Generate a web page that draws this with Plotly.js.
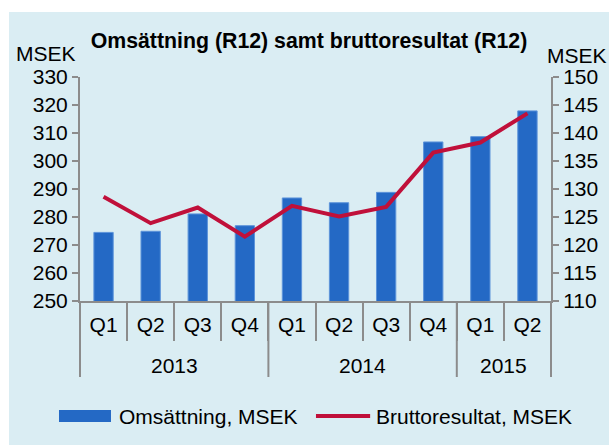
<!DOCTYPE html>
<html>
<head>
<meta charset="utf-8">
<script src="https://cdn.plot.ly/plotly-3.0.1.min.js"></script>
<style>
  html, body { margin: 0; padding: 0; background: #ffffff; }
  #chart { position: absolute; left: 9px; top: 12px; width: 600px; height: 433px; }
</style>
</head>
<body>
<div id="chart"></div>
<script>
const years = ["2013", "2013", "2013", "2013", "2014", "2014", "2014", "2014", "2015", "2015"];
const quarters = ["Q1", "Q2", "Q3", "Q4", "Q1", "Q2", "Q3", "Q4", "Q1", "Q2"];
const omsattning = [274.5, 274.9, 281.1, 276.9, 286.8, 285.1, 288.8, 306.8, 308.7, 317.9];
const bruttoresultat = [128.6, 123.9, 126.7, 121.5, 127.0, 125.1, 126.8, 136.5, 138.3, 143.5];
const seriesNames = ["Omsättning, MSEK", "Bruttoresultat, MSEK"];
const titleText = "Omsättning (R12) samt bruttoresultat (R12)";

const FONT = "Liberation Sans, Arial, sans-serif";
const FS = 21;
const AXIS = "#8c8c8c";
const BLUE = "#2469C5";
const RED = "#C0103A";

const PLOT_H = 224;           // plot-area height in px (433 - 65 - 144)
const n = quarters.length;
const idx = quarters.map((_, i) => i);

// year groups: boundaries and centres derived from the years array
const groups = [];
years.forEach((y, i) => {
  if (i === 0 || years[i - 1] !== y) groups.push({ year: y, start: i, end: i });
  else groups[groups.length - 1].end = i;
});
const boundaries = [0].concat(groups.map(g => g.end + 1));

const traces = [
  {
    type: "bar",
    x: idx,
    y: omsattning,
    name: seriesNames[0],
    marker: { color: BLUE, line: { color: "#5D94DA", width: 1 } },
    yaxis: "y",
    showlegend: false,
    hoverinfo: "skip"
  },
  {
    type: "scatter",
    mode: "lines",
    x: idx,
    y: bruttoresultat,
    name: seriesNames[1],
    line: { color: RED, width: 4 },
    yaxis: "y2",
    showlegend: false,
    hoverinfo: "skip"
  }
];

const yearAnnotations = groups.map(g => ({
  text: g.year, xref: "x", yref: "paper",
  x: (g.start + g.end) / 2, y: -64 / PLOT_H,
  xanchor: "center", yanchor: "middle", showarrow: false,
  font: { family: FONT, size: FS, color: "#000000" }
}));

const dividerShapes = boundaries.map(b => ({
  type: "line", xref: "paper", yref: "paper",
  x0: b / n, x1: b / n, y0: 0, y1: -76 / PLOT_H,
  line: { color: AXIS, width: 2 }
}));

const layout = {
  width: 600,
  height: 433,
  margin: { l: 71, r: 58, t: 65, b: 144 },
  paper_bgcolor: "#DAEDF3",
  plot_bgcolor: "#DAEDF3",
  font: { family: FONT, size: FS, color: "#000000" },
  title: {
    text: "<b>" + titleText + "</b>",
    font: { family: FONT, size: 21.3, color: "#000000" },
    x: 0.5, xanchor: "center",
    y: 1 - 29 / 433, yanchor: "middle"
  },
  bargap: 0.59,
  xaxis: {
    range: [-0.5, n - 0.5],
    tickmode: "array", tickvals: idx, ticktext: quarters,
    ticks: "",
    ticklabelstandoff: 4,
    minor: { ticks: "outside", tick0: -0.5, dtick: 1, ticklen: 38, tickcolor: AXIS, tickwidth: 2, showgrid: false },
    showline: true, linecolor: AXIS, linewidth: 2,
    showgrid: false, zeroline: false,
    tickfont: { family: FONT, size: FS, color: "#000000" }
  },
  yaxis: {
    range: [250, 330], dtick: 10,
    showline: true, linecolor: AXIS, linewidth: 2,
    ticks: "outside", ticklen: 6, tickcolor: AXIS, tickwidth: 2,
    showgrid: false, zeroline: false,
    tickfont: { family: FONT, size: FS, color: "#000000" }
  },
  yaxis2: {
    range: [110, 150], dtick: 5,
    overlaying: "y", side: "right",
    showline: true, linecolor: AXIS, linewidth: 2,
    ticks: "outside", ticklen: 6, tickcolor: AXIS, tickwidth: 2,
    showgrid: false, zeroline: false,
    tickfont: { family: FONT, size: FS, color: "#000000" }
  },
  annotations: [
    { text: "MSEK", xref: "paper", yref: "paper", x: -0.0722, y: 1.107, xanchor: "center", yanchor: "middle", showarrow: false, font: { family: FONT, size: FS } },
    { text: "MSEK", xref: "paper", yref: "paper", x: 1.0552, y: 1.098, xanchor: "center", yanchor: "middle", showarrow: false, font: { family: FONT, size: FS } },
    { text: seriesNames[0], xref: "paper", yref: "paper", x: 0.0786, y: -0.5134, xanchor: "left", yanchor: "middle", showarrow: false, font: { family: FONT, size: FS } },
    { text: seriesNames[1], xref: "paper", yref: "paper", x: 0.624, y: -0.5134, xanchor: "left", yanchor: "middle", showarrow: false, font: { family: FONT, size: FS } }
  ].concat(yearAnnotations),
  shapes: [
    { type: "rect", xref: "paper", yref: "paper", x0: -0.0446, x1: 0.0658, y0: -0.4866, y1: -0.540, fillcolor: BLUE, line: { width: 0 } },
    { type: "line", xref: "paper", yref: "paper", x0: 0.501, x1: 0.616, y0: -0.5134, y1: -0.5134, line: { color: RED, width: 4 } }
  ].concat(dividerShapes)
};

Plotly.newPlot("chart", traces, layout, { displayModeBar: false, staticPlot: true });
</script>
</body>
</html>
